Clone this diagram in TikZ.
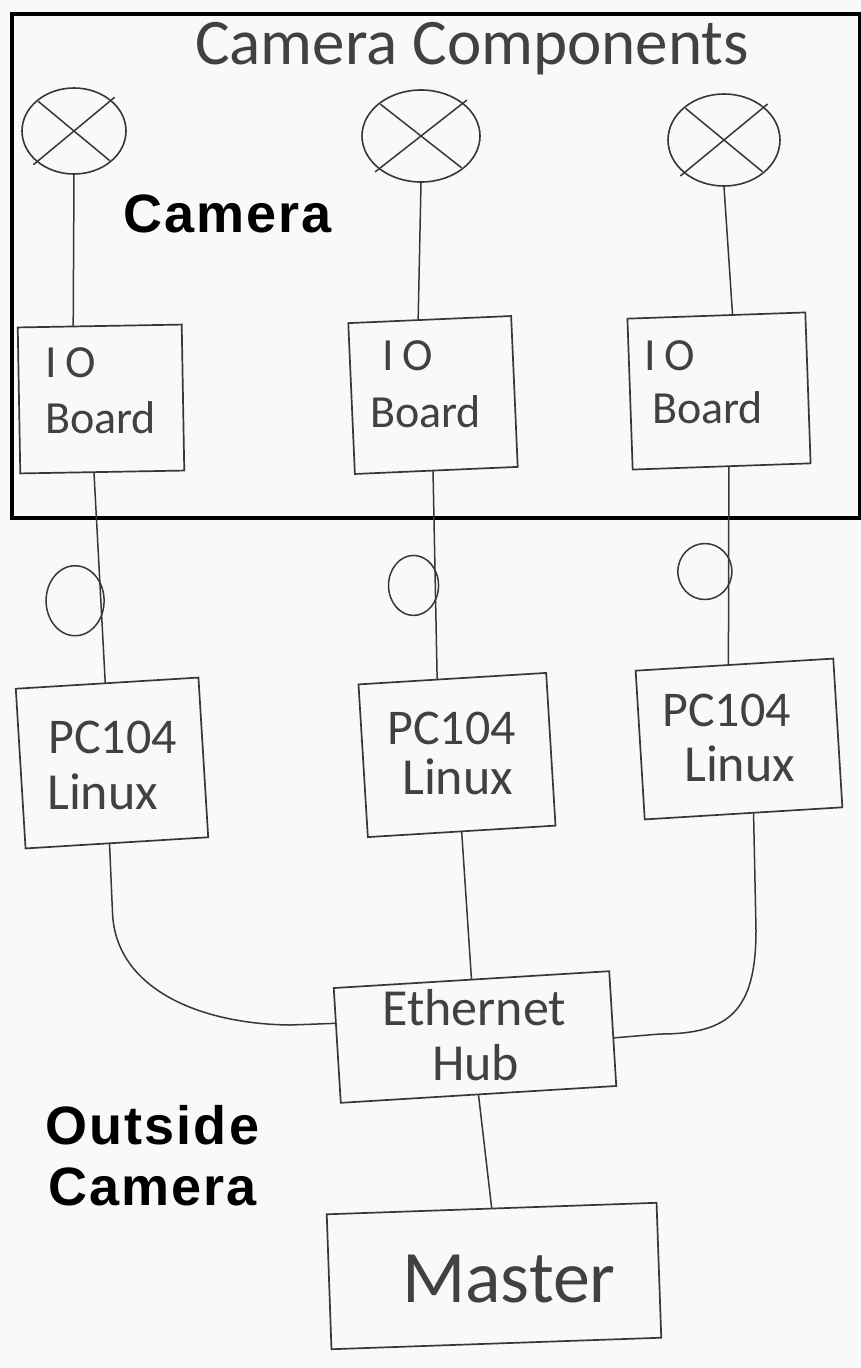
\documentclass[tikz,border=0pt]{standalone}
\usepackage{fontspec}
\setmainfont{Carlito}
\newfontfamily\labelfont{Liberation Sans}
\usetikzlibrary{calc,shapes.geometric}
\definecolor{bg}{RGB}{249,249,249}
\definecolor{ink}{RGB}{55,55,55}
\definecolor{pen}{RGB}{65,65,65}
\tikzset{
  wire/.style={draw=ink, line width=1.5pt, line cap=round, line join=round},
  box/.style={draw=ink, line width=1.7pt, rectangle, inner sep=0pt},
  lens/.style={draw=ink, line width=1.6pt, ellipse, inner sep=0pt},
  coil/.style={draw=ink, line width=1.5pt, ellipse, inner sep=0pt},
  hw/.style={text=pen, inner sep=0pt, anchor=base west},
  hwm/.style={hw, font=\fontsize{46}{50}\selectfont},
  tag/.style={inner sep=0pt, anchor=base west, text=black,
              font=\labelfont\bfseries\fontsize{54}{60}\selectfont\addfontfeature{LetterSpace=4}}
}
\begin{document}
\begin{tikzpicture}[x=1pt,y=-1pt]
\fill[bg] (0,0) rectangle (861,1368);
\useasboundingbox (0,0) rectangle (861,1368);

% frame of the camera
\node[draw=black, line width=4pt, rectangle, inner sep=0pt, anchor=north west,
      minimum width=848pt, minimum height=504pt] (frame) at (10,12) {};

% title
\node[hw, font=\fontsize{65}{70}\selectfont] (title) at (195,64) {Camera Components};

% lenses
\node[lens, minimum width=104pt, minimum height=86pt] (c1) at (74,131) {};
\node[lens, minimum width=118pt, minimum height=92pt] (c2) at (421,136) {};
\node[lens, minimum width=112pt, minimum height=92pt] (c3) at (724,140) {};
\foreach \c in {c1,c2,c3}{
  \draw[wire] ($(\c.center)!1.08!(\c.north east)$) -- ($(\c.center)!1.08!(\c.south west)$);
  \draw[wire] ($(\c.center)!0.95!(\c.north west)$) -- ($(\c.center)!0.95!(\c.south east)$);
}

% IO boards
\node[box, minimum width=164pt, minimum height=146pt, rotate=1]   (io1) at (101,399) {};
\node[box, minimum width=163pt, minimum height=151pt, rotate=2.5] (io2) at (433,395) {};
\node[box, minimum width=178pt, minimum height=151pt, rotate=2]   (io3) at (719,391) {};
\node[hwm] (io1a) at (45,377) {\addfontfeature{LetterSpace=18}IO};
\node[hwm] (io1b) at (45,433) {Board};
\node[hwm] (io2a) at (382,370) {\addfontfeature{LetterSpace=18}IO};
\node[hwm] (io2b) at (370,427) {Board};
\node[hwm] (io3a) at (644,370) {\addfontfeature{LetterSpace=18}IO};
\node[hwm] (io3b) at (652,423) {Board};

% PC104 boxes
\node[box, minimum width=183pt, minimum height=160pt, rotate=3.5] (pc1) at (112,763) {};
\node[box, minimum width=188pt, minimum height=153pt, rotate=3.5] (pc2) at (457,755) {};
\node[box, minimum width=198pt, minimum height=149pt, rotate=3.5] (pc3) at (739,739) {};
\node[hw, font=\fontsize{50}{54}\selectfont] (pc1a) at (48,753) {PC104};
\node[hw, font=\fontsize{52}{56}\selectfont] (pc1b) at (47,809) {Linux};
\node[hw, font=\fontsize{50}{54}\selectfont] (pc2a) at (387,744) {PC104};
\node[hw, font=\fontsize{52}{56}\selectfont] (pc2b) at (402,794) {Linux};
\node[hw, font=\fontsize{50}{54}\selectfont] (pc3a) at (662,726) {PC104};
\node[hw, font=\fontsize{52}{56}\selectfont] (pc3b) at (684,781) {Linux};

% Ethernet hub
\node[box, minimum width=276pt, minimum height=115pt, rotate=3.5] (hub) at (475,1037) {};
\node[hw, font=\fontsize{52}{56}\selectfont] (huba) at (382,1025) {Ethernet};
\node[hw, font=\fontsize{52}{56}\selectfont] (hubb) at (432,1080) {Hub};

% Master
\node[box, minimum width=330pt, minimum height=135pt, rotate=2] (master) at (494,1276) {};
\node[hw, font=\fontsize{74}{80}\selectfont] (mastera) at (402,1302) {Master};

% bold labels
\node[tag] (camlbl) at (123,232) {Camera};
\node[tag] (outa) at (45,1144) {Outside};
\node[tag] (outb) at (48,1205) {Camera};

% lens to IO board
\draw[wire] (c1.south) -- ($(io1.north west)!0.34!(io1.north east)$);
\draw[wire] (c2.south) -- ($(io2.north west)!0.43!(io2.north east)$);
\draw[wire] (c3.south) -- ($(io3.north west)!0.59!(io3.north east)$);

% IO board to PC104 with cable coil
\draw[wire] ($(io1.south west)!0.45!(io1.south east)$)
  -- node[pos=0.61, coil, anchor=east, xshift=4pt, minimum width=58pt, minimum height=70pt] (loop1) {}
  ($(pc1.north west)!0.49!(pc1.north east)$);
\draw[wire] ($(io2.south west)!0.48!(io2.south east)$)
  -- node[pos=0.55, coil, anchor=east, xshift=4pt, minimum width=50pt, minimum height=60pt] (loop2) {}
  ($(pc2.north west)!0.42!(pc2.north east)$);
\draw[wire] ($(io3.south west)!0.54!(io3.south east)$)
  -- node[pos=0.53, coil, anchor=east, xshift=4pt, minimum width=54pt, minimum height=56pt] (loop3) {}
  ($(pc3.north west)!0.47!(pc3.north east)$);

% PC104 to hub
\draw[wire] ($(pc1.south west)!0.46!(pc1.south east)$) -- ++(3,70)
  .. controls +(4,75) and (200,1024) .. (290,1025)
  -- ($(hub.north west)!0.31!(hub.south west)$);
\draw[wire] (pc2.south) -- (hub.north);
\draw[wire] ($(pc3.south west)!0.55!(pc3.south east)$) -- (756,930)
  .. controls (756,1010) and (730,1034) .. (660,1034)
  -- ($(hub.north east)!0.58!(hub.south east)$);

% hub to master
\draw[wire] (hub.south) -- (master.north);
\end{tikzpicture}
\end{document}
